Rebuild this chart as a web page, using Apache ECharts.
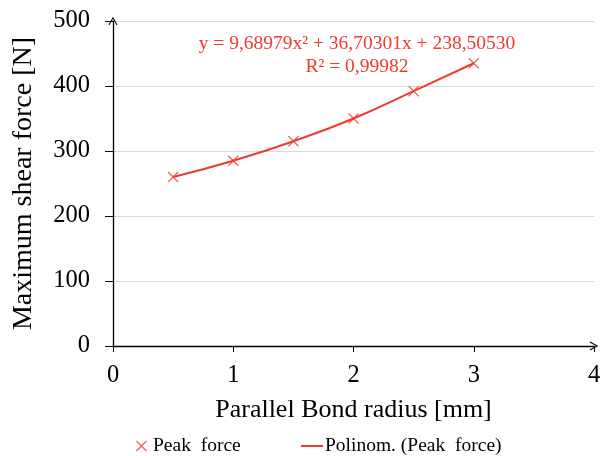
<!DOCTYPE html>
<html>
<head>
<meta charset="utf-8">
<script src="https://cdn.jsdelivr.net/npm/echarts@6/dist/echarts.min.js"></script>
<style>
  html, body { margin: 0; padding: 0; background: #fff; }
  #chart { width: 604px; height: 456px; }
</style>
</head>
<body>
<div id="chart"></div>
<script>
// data
const radius = [0.5, 1, 1.5, 2, 2.5, 3];
const peakForce = [260, 285, 315, 350, 392, 435];
const equation = 'y = 9,68979x² + 36,70301x + 238,50530';
const rSquared = 'R² = 0,99982';

const red = '#ef3b2c';
const font = '"Liberation Serif", "Times New Roman", serif';
const crossIcon = 'path://M0,0.8L0.8,0L5,4.2L9.2,0L10,0.8L5.8,5L10,9.2L9.2,10L5,5.8L0.8,10L0,9.2L4.2,5Z';
const arrowHead = 'path://M0,9L5,0L10,9L9,9.6L5,2.4L1,9.6Z';

const chart = echarts.init(document.getElementById('chart'));

const option = {
    animation: false,
    textStyle: { fontFamily: font },
    grid: { left: 113, right: 10, top: 21, bottom: 110 },
    xAxis: {
        type: 'value',
        min: 0,
        max: 4,
        interval: 1,
        name: 'Parallel Bond radius [mm]',
        nameLocation: 'center',
        nameGap: 51,
        nameTextStyle: { fontSize: 26, color: '#000', fontFamily: font },
        axisLine: {
            symbol: ['none', arrowHead],
            symbolSize: [9, 9],
            lineStyle: { color: '#000', width: 1.3 }
        },
        axisTick: { length: 6, lineStyle: { color: '#000' } },
        axisLabel: { fontSize: 24.5, color: '#000', margin: 17, fontFamily: font },
        splitLine: { show: false }
    },
    yAxis: {
        type: 'value',
        min: 0,
        max: 500,
        interval: 100,
        name: 'Maximum shear force [N]',
        nameLocation: 'center',
        nameGap: 75,
        nameTextStyle: { fontSize: 28, color: '#000', fontFamily: font },
        axisLine: {
            show: true,
            symbol: ['none', arrowHead],
            symbolSize: [9, 9],
            lineStyle: { color: '#000', width: 1.3 }
        },
        axisTick: { show: true, length: 8, lineStyle: { color: '#000' } },
        axisLabel: { fontSize: 24.5, color: '#000', margin: 23, fontFamily: font },
        splitLine: { lineStyle: { color: '#d9d9d9', width: 1 } }
    },
    legend: [
        {
            left: 131,
            top: 431,
            itemWidth: 11,
            itemHeight: 11,
            textStyle: { fontSize: 19.5, color: '#000', fontFamily: font, padding: [0, 0, 0, 1] },
            data: [{ name: 'Peak  force', icon: crossIcon }]
        },
        {
            left: 296,
            top: 431,
            itemWidth: 22,
            itemHeight: 2,
            textStyle: { fontSize: 19.5, color: '#000', fontFamily: font, padding: [0, 0, 0, -3] },
            data: [{ name: 'Polinom. (Peak  force)', icon: 'rect' }]
        }
    ],
    graphic: [
        {
            type: 'text',
            x: 357,
            y: 32,
            style: {
                text: equation + '\n' + rSquared,
                fill: red,
                font: '19.5px ' + font,
                align: 'center',
                lineHeight: 23
            }
        }
    ],
    series: [
        {
            name: 'Polinom. (Peak  force)',
            type: 'line',
            smooth: true,
            showSymbol: false,
            color: red,
            lineStyle: { color: red, width: 2 },
            data: radius.map((r, i) => [r, peakForce[i]]),
            z: 2
        },
        {
            name: 'Peak  force',
            type: 'scatter',
            symbol: crossIcon,
            symbolSize: 11,
            color: red,
            itemStyle: { color: red },
            data: radius.map((r, i) => [r, peakForce[i]]),
            z: 3
        }
    ]
};

chart.setOption(option);
</script>
</body>
</html>
